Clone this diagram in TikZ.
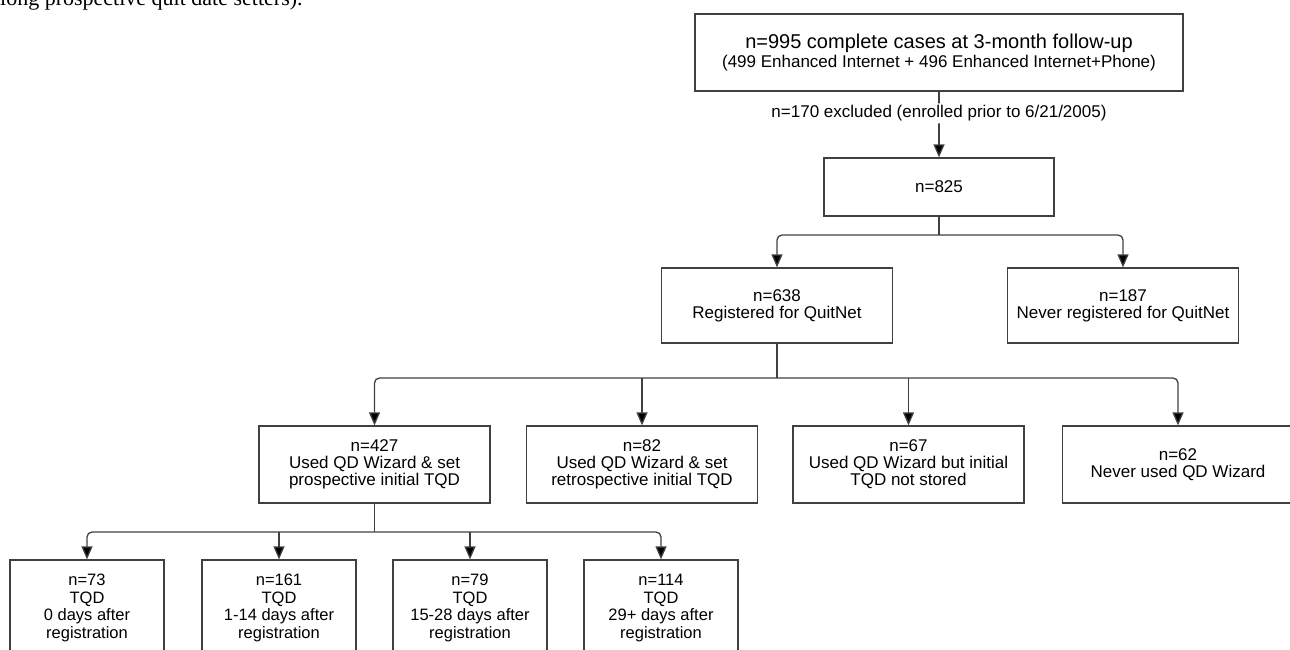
\documentclass[tikz,border=0pt]{standalone}
\usepackage{fontspec}
\setmainfont{Liberation Sans}
\newfontfamily\timesfont{Liberation Serif}
\usetikzlibrary{arrows.meta}

\begin{document}
\begin{tikzpicture}[x=1pt,y=1pt]
\tikzstyle{every node}+=[inner sep=0pt]
\tikzstyle{box}=[draw=black!75, line width=1.3pt, align=center, font=\fontsize{17}{17}\selectfont]
\tikzstyle{wide}=[box, minimum width=231pt, minimum height=77pt]
\tikzstyle{small}=[box, minimum width=154pt, minimum height=96pt, font=\fontsize{16.5}{17.5}\selectfont]
\tikzstyle{trunk}=[draw=black!75, line width=1.3pt]
\tikzstyle{link}=[trunk, rounded corners=5pt, -{Triangle[length=13pt,width=11pt,fill=black]}]
\useasboundingbox (0,0) rectangle (1290,-649);
\node [anchor=base west, font=\timesfont\fontsize{22}{22}\selectfont] (note) at (0,-5.5) {long prospective quit date setters).};
\node [box, minimum width=488pt, minimum height=77pt, font=\fontsize{17}{19}\selectfont] (total) at (939,-52.5) {{\fontsize{20}{20}\selectfont n=995 complete cases at 3-month follow-up}\\(499 Enhanced Internet + 496 Enhanced Internet+Phone)};
\node [box, minimum width=230pt, minimum height=58pt] (n825) at (939,-187) {n=825};
\node [wide, minimum height=75pt] (n638) at (777,-305.5) {n=638\\Registered for QuitNet};
\node [wide, minimum height=75pt] (n187) at (1123,-305.5) {n=187\\Never registered for QuitNet};
\node [wide] (n427) at (374.5,-464.5) {n=427\\Used QD Wizard \& set\\prospective initial TQD};
\node [wide] (n82) at (642,-464.5) {n=82\\Used QD Wizard \& set\\retrospective initial TQD};
\node [wide] (n67) at (908.5,-464.5) {n=67\\Used QD Wizard but initial\\TQD not stored};
\node [wide] (n62) at (1178,-464.5) {n=62\\Never used QD Wizard};
\node [small] (n73) at (87,-608) {n=73\\TQD\\0 days after\\registration};
\node [small] (n161) at (279,-608) {n=161\\TQD\\1-14 days after\\registration};
\node [small] (n79) at (470,-608) {n=79\\TQD\\15-28 days after\\registration};
\node [small] (n114) at (661,-608) {n=114\\TQD\\29+ days after\\registration};
\draw [link] (total) -- node [pos=0.33, fill=white, inner sep=2pt, font=\fontsize{17}{17}\selectfont] (excl) {n=170 excluded (enrolled prior to 6/21/2005)} (n825);
\coordinate (b1) at (939,-235);
\draw [trunk] (n825) -- (b1);
\draw [link] (b1) -| (n638.north);
\draw [link] (b1) -| (n187.north);
\coordinate (b2) at (777,-378);
\draw [trunk] (n638) -- (b2);
\draw [link] (b2) -| (n427.north);
\draw [link] (b2) -| (n62.north);
\draw [link] (n82.north |- b2) -- (n82.north);
\draw [link] (n67.north |- b2) -- (n67.north);
\coordinate (b3) at (374.5,-532);
\draw [trunk] (n427) -- (b3);
\draw [link] (b3) -| (n73.north);
\draw [link] (b3) -| (n114.north);
\draw [link] (n161.north |- b3) -- (n161.north);
\draw [link] (n79.north |- b3) -- (n79.north);
\end{tikzpicture}
\end{document}
